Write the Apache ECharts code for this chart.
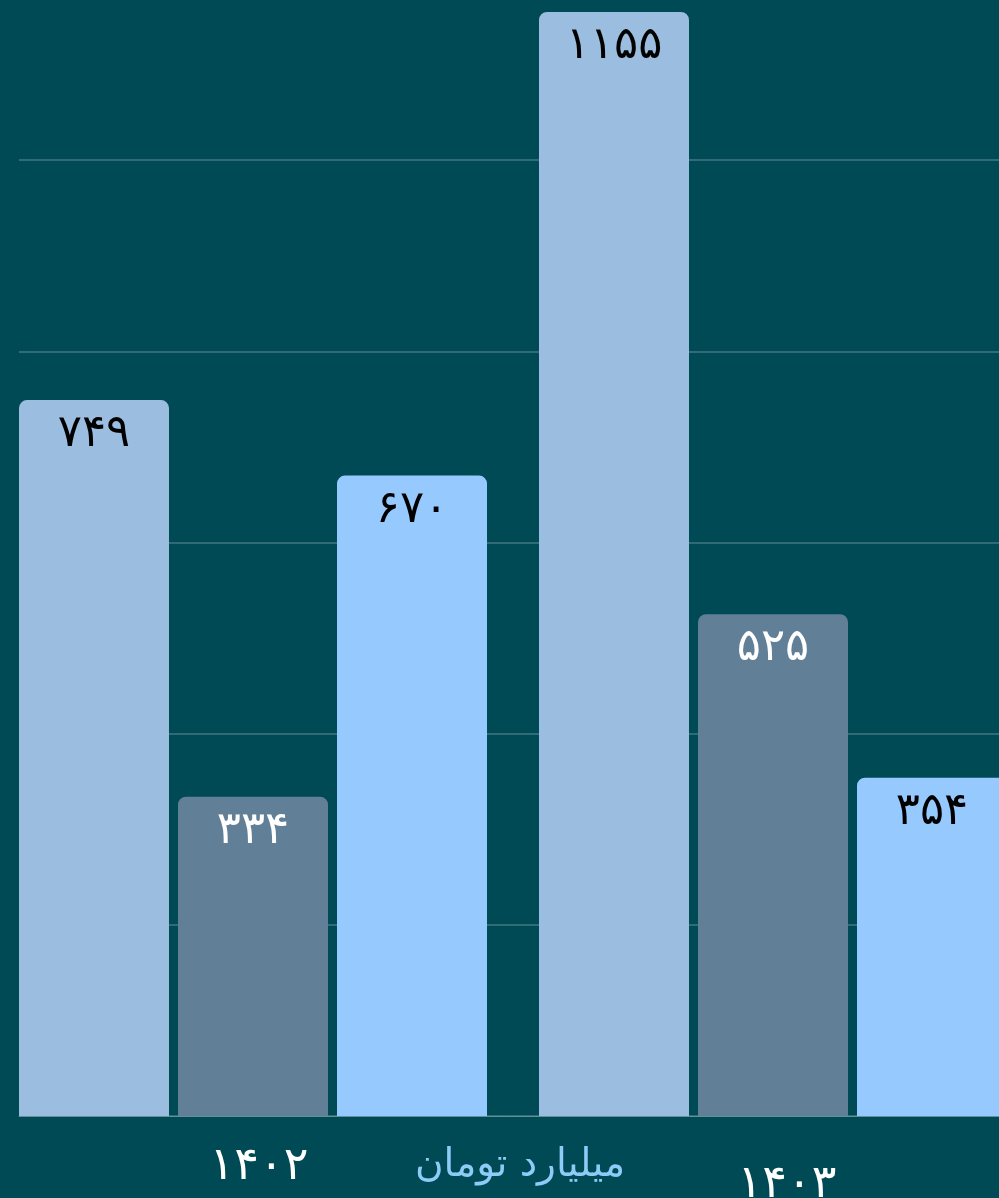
<!DOCTYPE html>
<html>
<head>
<meta charset="utf-8">
<style>
  html, body { margin: 0; padding: 0; background: #004a55; }
  #chart { width: 999px; height: 1198px; }
</style>
<script src="https://cdn.jsdelivr.net/npm/echarts@6/dist/echarts.min.js"></script>
</head>
<body>
<div id="chart"></div>
<script>
// سال‌ها
const years = ['1402', '1403'];
// سه سری داده برای هر سال
const seriesA = [749, 1155];
const seriesB = [334, 525];
const seriesC = [670, 354];
const yTicks = [0, 200, 400, 600, 800, 1000, 1200];
const unitName = 'میلیارد تومان';

const faDigits = '۰۱۲۳۴۵۶۷۸۹';
function toFa(v) {
  return String(v).replace(/[0-9]/g, d => faDigits[d]);
}

const fontFamily = '"DejaVu Sans", "Noto Sans", sans-serif';

function barLabel(color) {
  return {
    show: true,
    position: 'insideTop',
    distance: 12,
    color: color,
    fontSize: 45,
    fontFamily: fontFamily,
    formatter: p => toFa(p.value)
  };
}

const chart = echarts.init(document.getElementById('chart'));

chart.setOption({
  backgroundColor: '#004a55',
  animation: false,
  grid: [
    // grid اصلی برای ستون‌ها
    { left: -7, right: -34, top: -31, bottom: 82, outerBoundsMode: 'none', containLabel: false },
    // grid دوم فقط برای خطوط راهنما
    { left: 19, right: 0, top: -31, bottom: 82, outerBoundsMode: 'none', containLabel: false }
  ],
  xAxis: [
    {
      type: 'category',
      gridIndex: 0,
      data: years,
      axisLine: { show: false },
      axisTick: { show: false },
      axisLabel: {
        margin: 28,
        color: '#ffffff',
        fontSize: 46,
        fontFamily: fontFamily,
        formatter: v => v === '1403' ? '{b|' + toFa(v) + '}' : '{a|' + toFa(v) + '}',
        rich: {
          a: { color: '#ffffff', fontSize: 46, fontFamily: fontFamily, padding: [0, 0, 0, 12] },
          b: { color: '#ffffff', fontSize: 46, fontFamily: fontFamily, padding: [18, 0, 0, 28] }
        }
      },
      name: unitName,
      nameLocation: 'middle',
      nameGap: 30,
      nameMoveOverlap: false,
      nameTextStyle: {
        color: '#8ecbf7',
        fontSize: 39,
        fontFamily: fontFamily,
        verticalAlign: 'top',
        padding: [0, 0, 0, 14]
      }
    },
    {
      type: 'category',
      gridIndex: 1,
      data: years,
      axisLine: { show: true, lineStyle: { color: 'rgba(255,255,255,0.25)', width: 1 } },
      axisTick: { show: false },
      axisLabel: { show: false }
    }
  ],
  yAxis: [
    {
      type: 'value',
      gridIndex: 0,
      min: yTicks[0],
      max: yTicks[yTicks.length - 1],
      interval: 200,
      show: false,
      splitLine: { show: false }
    },
    {
      type: 'value',
      gridIndex: 1,
      min: yTicks[0],
      max: yTicks[yTicks.length - 1],
      interval: 200,
      axisLine: { show: false },
      axisTick: { show: false },
      axisLabel: { show: false },
      splitLine: { show: true, lineStyle: { color: 'rgba(255,255,255,0.25)', width: 1.5 } }
    }
  ],
  series: [
    {
      type: 'bar',
      xAxisIndex: 0,
      yAxisIndex: 0,
      data: seriesA,
      barWidth: 150,
      barGap: '6%',
      itemStyle: { color: '#9bbddf', borderRadius: [8, 8, 0, 0] },
      label: barLabel('#000000')
    },
    {
      type: 'bar',
      xAxisIndex: 0,
      yAxisIndex: 0,
      data: seriesB,
      barWidth: 150,
      barGap: '6%',
      itemStyle: { color: '#617f97', borderRadius: [8, 8, 0, 0] },
      label: barLabel('#ffffff')
    },
    {
      type: 'bar',
      xAxisIndex: 0,
      yAxisIndex: 0,
      data: seriesC,
      barWidth: 150,
      barGap: '6%',
      itemStyle: { color: '#96caff', borderRadius: [8, 8, 0, 0] },
      label: barLabel('#000000')
    }
  ]
});
</script>
</body>
</html>
